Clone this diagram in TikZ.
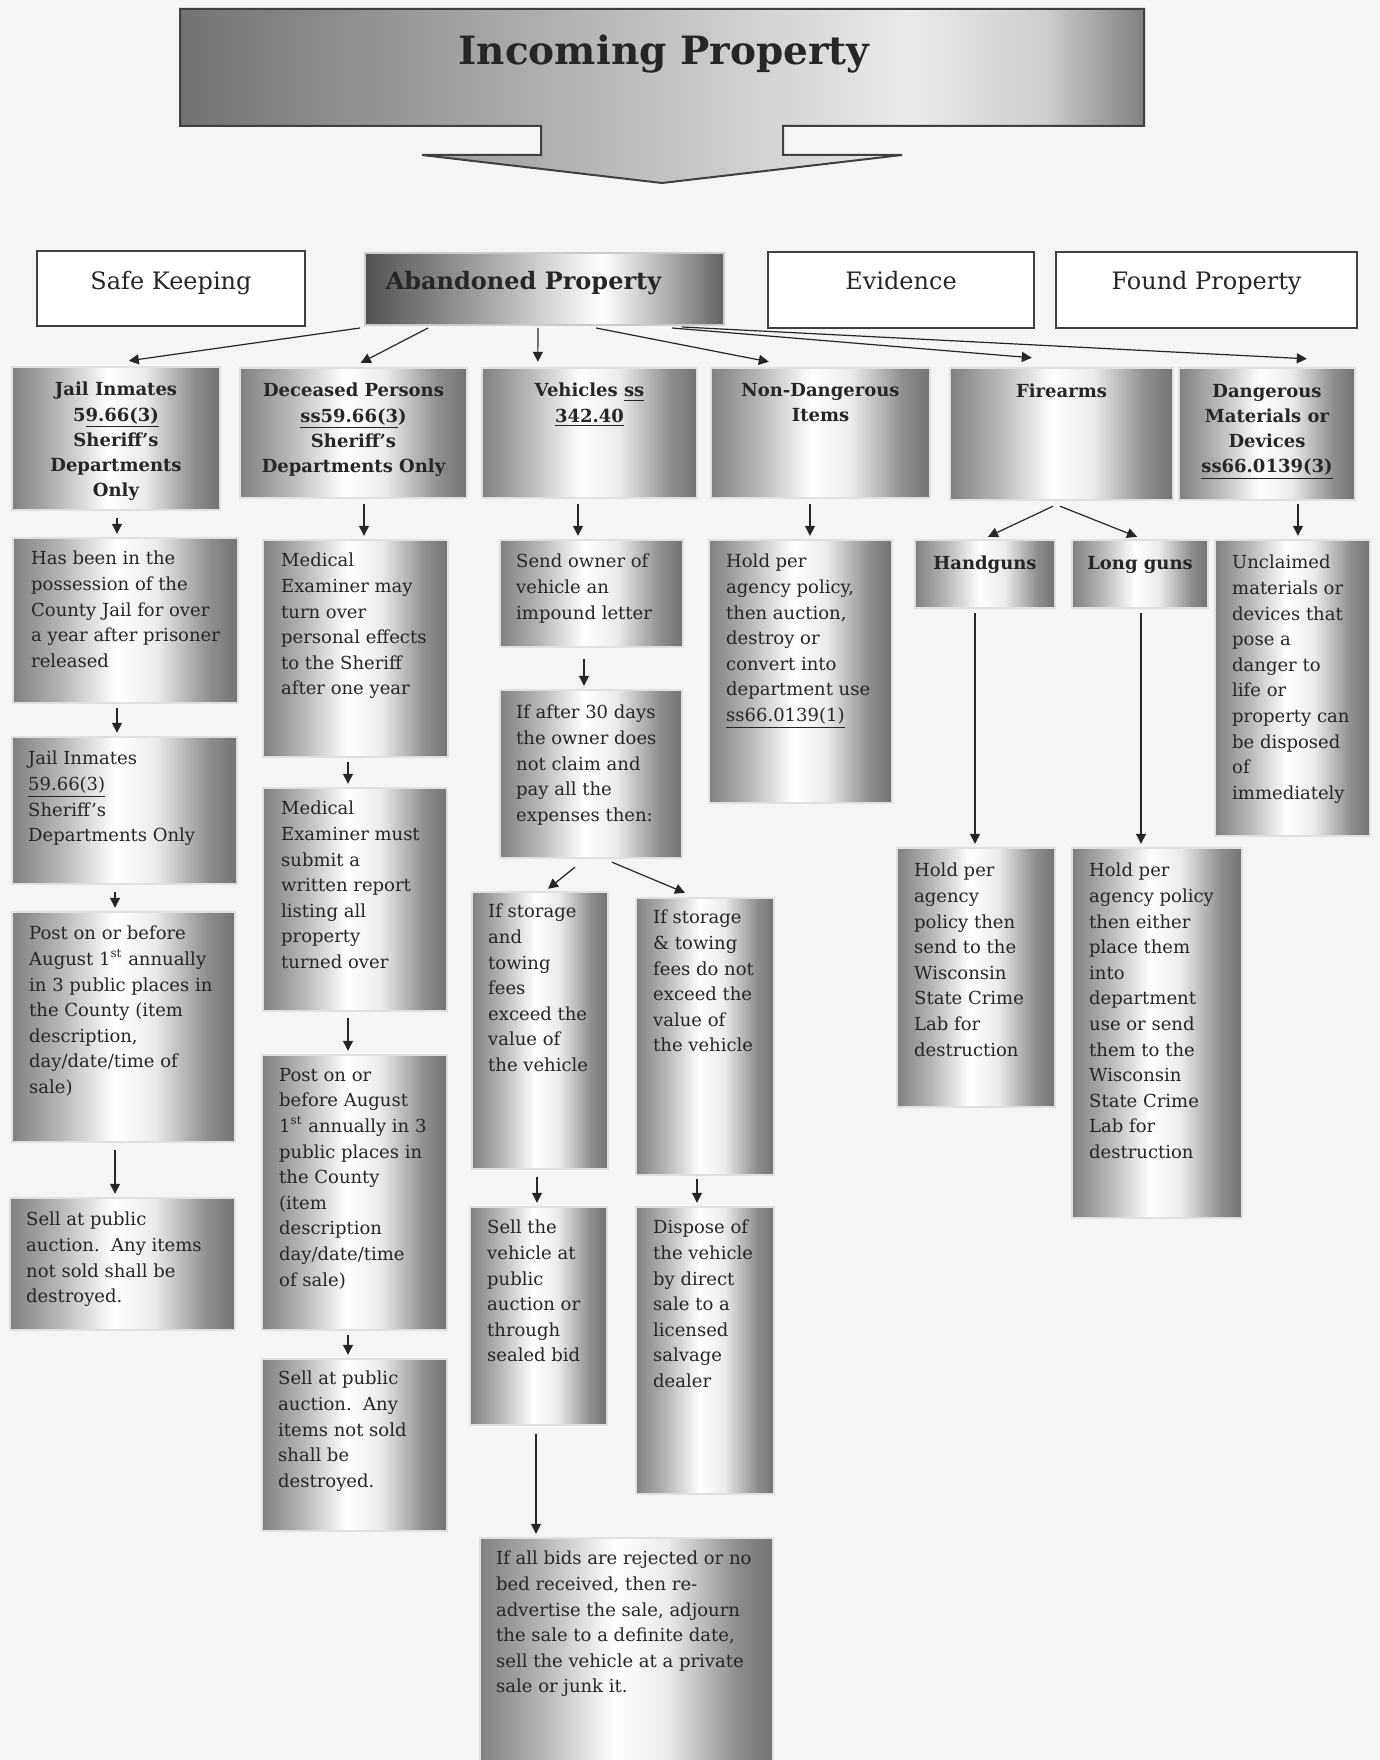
\documentclass[tikz,border=0pt]{standalone}
\usepackage{fontspec}
\setmainfont{DejaVu Serif}
\usetikzlibrary{arrows.meta,fit}
\pgfdeclarehorizontalshading{metal}{100bp}{color(0bp)=(black!50); color(25bp)=(black!50); color(36bp)=(black!28); color(48bp)=(white); color(57bp)=(black!8); color(69bp)=(black!45); color(75bp)=(black!55); color(100bp)=(black!55)}
\pgfdeclarehorizontalshading{abshade}{100bp}{color(0bp)=(black!68); color(25bp)=(black!68); color(42bp)=(black!35); color(58bp)=(white); color(68bp)=(black!35); color(75bp)=(black!62); color(100bp)=(black!62)}
\pgfdeclarehorizontalshading{titleshade}{100bp}{color(0bp)=(black!55); color(25bp)=(black!55); color(45bp)=(black!30); color(63bp)=(black!8); color(70bp)=(black!20); color(75bp)=(black!50); color(100bp)=(black!50)}
\newcommand\mkbox[6]{\node[#1, fit={(#3,#4) (#5,#6)}] (#2) {};}
\begin{document}
\begin{tikzpicture}[x=0.5pt,y=-0.5pt,
  every node/.style={text=black!85},
  gbox/.style={shade, shading=metal, draw=black!12, line width=1.2pt, inner sep=0pt, rectangle},
  abox/.style={shade, shading=abshade, draw=black!20, line width=1pt, inner sep=0pt, rectangle},
  wbox/.style={fill=white, draw=black!75, line width=0.9pt, inner sep=0pt, rectangle},
  body/.style={anchor=north west, align=left, inner sep=0pt, font=\fontsize{9}{12.8}\selectfont},
  head/.style={anchor=north, align=center, inner sep=0pt, font=\bfseries\fontsize{9}{12.6}\selectfont},
  top/.style={anchor=base, inner sep=0pt, font=\fontsize{12}{14}\selectfont},
  arr/.style={-{Triangle[length=5pt,width=5pt]}, line width=0.6pt, draw=black!85}]
\useasboundingbox (0,0) rectangle (1380,1760);
\fill[black!4] (0,0) rectangle (1380,1760);
% title arrow
\shade[shading=titleshade, draw=black!75, line width=1pt, line join=miter]
  (180,9) -- (1144,9) -- (1144,126) -- (783,126) -- (783,155) -- (902,155) -- (662,183)
  -- (422,155) -- (541,155) -- (541,126) -- (180,126) -- cycle;
\node[anchor=base, inner sep=0pt, font=\bfseries\fontsize{19.5}{22}\selectfont] (title) at (664,65) {Incoming Property};
% top row
\mkbox{wbox}{sk}{37}{251}{305}{326}
\mkbox{abox}{ab}{365}{253}{724}{325}
\mkbox{wbox}{ev}{768}{252}{1034}{328}
\mkbox{wbox}{fp}{1056}{252}{1357}{328}
\node[top] (sk-t) at ([shift={(0,39)}]sk.north) {Safe Keeping};
\node[top, font=\bfseries\fontsize{12}{14}\selectfont] (ab-t) at ([shift={(-21,37)}]ab.north) {Abandoned Property};
\node[top] (ev-t) at ([shift={(0,38)}]ev.north) {Evidence};
\node[top] (fp-t) at ([shift={(0,38)}]fp.north) {Found Property};
% second row
\mkbox{gbox}{jail}{12}{367}{220}{510}
\mkbox{gbox}{dec}{240}{368}{467}{498}
\mkbox{gbox}{veh}{482}{368}{697}{498}
\mkbox{gbox}{nond}{711}{368}{930}{498}
\mkbox{gbox}{fire}{950}{368}{1173}{500}
\mkbox{gbox}{dang}{1179}{368}{1355}{500}
\node[head] (jail-t) at ([shift={(0,16)}]jail.north) {Jail Inmates\\5\underline{9.66(3)}\\Sheriff's\\Departments\\Only};
\node[head] (dec-t) at ([shift={(0,16)}]dec.north) {Deceased Persons\\\underline{ss59.66(3})\\Sheriff's\\Departments Only};
\node[head] (veh-t) at ([shift={(0,16)}]veh.north) {Vehicles \underline{ss}\\\underline{342.40}};
\node[head] (nond-t) at ([shift={(0,16)}]nond.north) {Non-Dangerous\\Items};
\node[head] (fire-t) at ([shift={(0,17)}]fire.north) {Firearms};
\node[head] (dang-t) at ([shift={(0,17)}]dang.north) {Dangerous\\Materials or\\Devices\\\underline{ss66.0139(3)}};
% column 1
\mkbox{gbox}{has}{13}{538}{238}{703}
\mkbox{gbox}{jail2}{12}{737}{237}{884}
\mkbox{gbox}{post1}{12}{912}{235}{1142}
\mkbox{gbox}{sell1}{10}{1198}{235}{1330}
\node[body] (has-t) at ([shift={(19,14)}]has.north west) {Has been in the\\possession of the\\County Jail for over\\a year after prisoner\\released};
\node[body] (jail2-t) at ([shift={(17,15)}]jail2.north west) {Jail Inmates\\\underline{59.66(3)}\\Sheriff's\\Departments Only};
\node[body] (post1-t) at ([shift={(18,15)}]post1.north west) {Post on or before\\August 1\textsuperscript{st} annually\\in 3 public places in\\the County (item\\description,\\day/date/time of\\sale)};
\node[body] (sell1-t) at ([shift={(17,15)}]sell1.north west) {Sell at public\\auction.\ \ Any items\\not sold shall be\\destroyed.};
% column 2
\mkbox{gbox}{med1}{263}{540}{448}{757}
\mkbox{gbox}{med2}{263}{788}{447}{1011}
\mkbox{gbox}{post2}{262}{1055}{447}{1330}
\mkbox{gbox}{sell2}{262}{1359}{447}{1531}
\node[body] (med1-t) at ([shift={(19,14)}]med1.north west) {Medical\\Examiner may\\turn over\\personal effects\\to the Sheriff\\after one year};
\node[body] (med2-t) at ([shift={(19,14)}]med2.north west) {Medical\\Examiner must\\submit a\\written report\\listing all\\property\\turned over};
\node[body] (post2-t) at ([shift={(18,14)}]post2.north west) {Post on or\\before August\\1\textsuperscript{st} annually in 3\\public places in\\the County\\(item\\description\\day/date/time\\of sale)};
\node[body] (sell2-t) at ([shift={(17,13)}]sell2.north west) {Sell at public\\auction.\ \ Any\\items not sold\\shall be\\destroyed.};
% column 3
\mkbox{gbox}{send}{500}{540}{683}{647}
\mkbox{gbox}{if30}{500}{690}{682}{858}
\mkbox{gbox}{stor1}{472}{892}{608}{1169}
\mkbox{gbox}{stor2}{636}{898}{774}{1175}
\mkbox{gbox}{sellv}{470}{1207}{607}{1425}
\mkbox{gbox}{disp}{636}{1207}{774}{1494}
\mkbox{gbox}{bids}{480}{1538}{773}{1762}
\node[body] (send-t) at ([shift={(17,15)}]send.north west) {Send owner of\\vehicle an\\impound letter};
\node[body] (if30-t) at ([shift={(17,16)}]if30.north west) {If after 30 days\\the owner does\\not claim and\\pay all the\\expenses then:};
\node[body] (stor1-t) at ([shift={(17,13)}]stor1.north west) {If storage\\and\\towing\\fees\\exceed the\\value of\\the vehicle};
\node[body] (stor2-t) at ([shift={(18,13)}]stor2.north west) {If storage\\\& towing\\fees do not\\exceed the\\value of\\the vehicle};
\node[body] (sellv-t) at ([shift={(18,14)}]sellv.north west) {Sell the\\vehicle at\\public\\auction or\\through\\sealed bid};
\node[body] (disp-t) at ([shift={(18,14)}]disp.north west) {Dispose of\\the vehicle\\by direct\\sale to a\\licensed\\salvage\\dealer};
\node[body] (bids-t) at ([shift={(17,14)}]bids.north west) {If all bids are rejected or no\\bed received, then re-\\advertise the sale, adjourn\\the sale to a definite date,\\sell the vehicle at a private\\sale or junk it.};
% column 4
\mkbox{gbox}{hold}{709}{540}{892}{803}
\node[body] (hold-t) at ([shift={(18,15)}]hold.north west) {Hold per\\agency policy,\\then auction,\\destroy or\\convert into\\department use\\\underline{ss66.0139(1)}};
% firearms and dangerous
\mkbox{gbox}{hand}{915}{540}{1055}{608}
\mkbox{gbox}{long}{1072}{540}{1208}{608}
\mkbox{gbox}{unc}{1215}{540}{1370}{836}
\mkbox{gbox}{holdh}{897}{848}{1055}{1107}
\mkbox{gbox}{holdl}{1072}{848}{1242}{1218}
\node[head] (hand-t) at ([shift={(0,17)}]hand.north) {Handguns};
\node[head] (long-t) at ([shift={(0,17)}]long.north) {Long guns};
\node[body] (unc-t) at ([shift={(18,16)}]unc.north west) {Unclaimed\\materials or\\devices that\\pose a\\danger to\\life or\\property can\\be disposed\\of\\immediately};
\node[body] (holdh-t) at ([shift={(18,16)}]holdh.north west) {Hold per\\agency\\policy then\\send to the\\Wisconsin\\State Crime\\Lab for\\destruction};
\node[body] (holdl-t) at ([shift={(18,16)}]holdl.north west) {Hold per\\agency policy\\then either\\place them\\into\\department\\use or send\\them to the\\Wisconsin\\State Crime\\Lab for\\destruction};
% arrows from Abandoned Property
\draw[arr] ([shift={(-4,2)}]ab.south west) -- ([shift={(118,-5)}]jail.north west);
\draw[arr] ([shift={(64,2)}]ab.south west) -- ([shift={(122,-4)}]dec.north west);
\draw[arr] ([shift={(174,2)}]ab.south west) -- ([shift={(57,-5)}]veh.north west);
\draw[arr] ([shift={(232,2)}]ab.south west) -- ([shift={(59,-5)}]nond.north west);
\draw[arr] ([shift={(308,2)}]ab.south west) -- ([shift={(83,-9)}]fire.north west);
\draw[arr] ([shift={(318,1)}]ab.south west) -- ([shift={(129,-8)}]dang.north west);
% column 1 arrows
\draw[arr] ([shift={(1,7)}]jail.south) -- ([shift={(-8.5,-3)}]has.north);
\draw[arr] ([shift={(-8.5,4)}]has.south) -- ([shift={(-7.5,-3)}]jail2.north);
\draw[arr] ([shift={(-9.5,7)}]jail2.south) -- ([shift={(-8.5,-3)}]post1.north);
\draw[arr] ([shift={(-8.5,7)}]post1.south) -- ([shift={(-7.5,-3)}]sell1.north);
% column 2 arrows
\draw[arr] ([shift={(10.5,5)}]dec.south) -- ([shift={(8.5,-3)}]med1.north);
\draw[arr] ([shift={(-7.5,4)}]med1.south) -- ([shift={(-7,-3)}]med2.north);
\draw[arr] ([shift={(-7,6)}]med2.south) -- ([shift={(-6.5,-3)}]post2.north);
\draw[arr] ([shift={(-6.5,4)}]post2.south) -- ([shift={(-6.5,-3)}]sell2.north);
% column 3 arrows
\draw[arr] ([shift={(-11.5,5)}]veh.south) -- ([shift={(-13.5,-3)}]send.north);
\draw[arr] ([shift={(-7.5,11)}]send.south) -- ([shift={(-7,-3)}]if30.north);
\draw[arr] ([shift={(-16,8)}]if30.south) -- ([shift={(8,-2)}]stor1.north);
\draw[arr] ([shift={(21,3)}]if30.south) -- ([shift={(-20,-4)}]stor2.north);
\draw[arr] ([shift={(-3,7)}]stor1.south) -- ([shift={(-1.5,-3)}]sellv.north);
\draw[arr] ([shift={(-8,3)}]stor2.south) -- ([shift={(-8,-3)}]disp.north);
\draw[arr] ([shift={(-2.5,8)}]sellv.south) -- ([shift={(-90.5,-3)}]bids.north);
% column 4 arrow
\draw[arr] ([shift={(-10.5,5)}]nond.south) -- ([shift={(9.5,-3)}]hold.north);
% firearms arrows
\draw[arr] ([shift={(-8.5,5)}]fire.south) -- ([shift={(3,-2)}]hand.north);
\draw[arr] ([shift={(-1.5,5)}]fire.south) -- ([shift={(-3,-2)}]long.north);
\draw[arr] ([shift={(31,3)}]dang.south) -- ([shift={(5.5,-3)}]unc.north);
\draw[arr] ([shift={(-10,4)}]hand.south) -- ([shift={(-1,-3)}]holdh.north);
\draw[arr] ([shift={(1,4)}]long.south) -- ([shift={(-16,-3)}]holdl.north);
\end{tikzpicture}
\end{document}
